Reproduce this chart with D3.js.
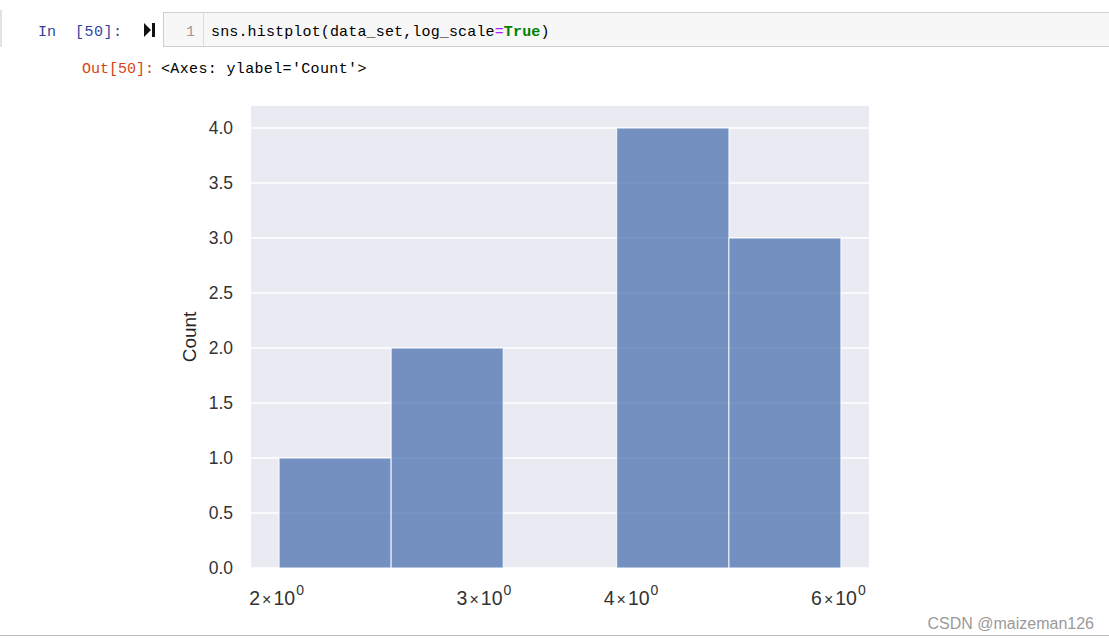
<!DOCTYPE html>
<html>
<head>
<meta charset="utf-8">
<script src="https://cdn.jsdelivr.net/npm/d3@7/dist/d3.min.js"></script>
<style>
  html, body { margin: 0; padding: 0; background: #ffffff; }
  svg { display: block; }
</style>
</head>
<body>
<svg id="chart" width="1109" height="639"></svg>
<script>
// ---- data ----
const binEdges = [2, 2.49, 3.10, 3.87, 4.82, 6];
const counts = [1, 2, 0, 4, 3];
const xTickValues = [2, 3, 4, 6];
const xTickMantissa = ["2", "3", "4", "6"];
const yTickValues = [0, 0.5, 1, 1.5, 2, 2.5, 3, 3.5, 4];
const yLabel = "Count";
const codeLine = "sns.histplot(data_set,log_scale=True)";
const outText = "<Axes: ylabel='Count'>";

const svg = d3.select("#chart");
const mono = "'Liberation Mono', 'DejaVu Sans Mono', monospace";
const sans = "'Liberation Sans', Arial, sans-serif";

// ---- notebook chrome ----
svg.append("rect").attr("x", 0).attr("y", 10).attr("width", 2).attr("height", 37).attr("fill", "#e3e3e3");
svg.append("text").attr("x", 38).attr("y", 36).attr("font-family", mono).attr("font-size", 15)
  .attr("fill", "#303F9F").text("In");
svg.append("text").attr("x", 75).attr("y", 36).attr("font-family", mono).attr("font-size", 15)
  .attr("letter-spacing", 0.5).attr("fill", "#303F9F").text("[50]:");
// run icon
svg.append("path").attr("d", "M144,23 L151,30 L144,37 Z").attr("fill", "#111");
svg.append("rect").attr("x", 152).attr("y", 23).attr("width", 3).attr("height", 14).attr("fill", "#111");
// input box
svg.append("rect").attr("x", 163.5).attr("y", 12.5).attr("width", 950).attr("height", 34)
  .attr("fill", "#f7f7f7").attr("stroke", "#cfcfcf");
svg.append("line").attr("x1", 203.5).attr("x2", 203.5).attr("y1", 13).attr("y2", 46).attr("stroke", "#dddddd");
svg.append("text").attr("x", 186).attr("y", 36).attr("font-family", mono).attr("font-size", 15)
  .attr("fill", "#999999").text("1");
const code = svg.append("text").attr("x", 211).attr("y", 36).attr("font-family", mono).attr("font-size", 15)
  .attr("letter-spacing", 0.15).attr("fill", "#000");
const eqIdx = codeLine.indexOf("=");
code.append("tspan").text(codeLine.slice(0, eqIdx));
code.append("tspan").attr("fill", "#AA22FF").text("=");
code.append("tspan").attr("fill", "#008000").attr("font-weight", "bold").text(codeLine.slice(eqIdx + 1, codeLine.length - 1));
code.append("tspan").text(codeLine.slice(-1));

svg.append("text").attr("x", 82).attr("y", 73).attr("font-family", mono).attr("font-size", 15)
  .attr("fill", "#D84315").text("Out[50]:");
svg.append("text").attr("x", 161).attr("y", 73).attr("font-family", mono).attr("font-size", 15)
  .attr("letter-spacing", 0.35).attr("fill", "#000").text(outText);

// ---- plot ----
const plotL = 251, plotR = 869, plotT = 106, plotB = 568;
const lmin = Math.log10(binEdges[0]), lmax = Math.log10(binEdges[binEdges.length - 1]);
const pad = 0.05 * (lmax - lmin);
const x = d3.scaleLog().domain([Math.pow(10, lmin - pad), Math.pow(10, lmax + pad)]).range([plotL, plotR]);
const y = d3.scaleLinear().domain([0, 4.2]).range([plotB, plotT]);

svg.append("rect").attr("x", plotL).attr("y", plotT).attr("width", plotR - plotL).attr("height", plotB - plotT)
  .attr("fill", "#EAEAF2");

// horizontal grid
svg.append("g").selectAll("line").data(yTickValues).join("line")
  .attr("x1", plotL).attr("x2", plotR)
  .attr("y1", d => y(d)).attr("y2", d => y(d))
  .attr("stroke", "#ffffff").attr("stroke-width", 1.4);

// bars
const bins = counts.map((c, i) => ({ x0: binEdges[i], x1: binEdges[i + 1], c }));
svg.append("g").selectAll("rect").data(bins.filter(b => b.c > 0)).join("rect")
  .attr("x", d => x(d.x0)).attr("width", d => x(d.x1) - x(d.x0))
  .attr("y", d => y(d.c)).attr("height", d => y(0) - y(d.c))
  .attr("fill", "#4C72B0").attr("fill-opacity", 0.75)
  .attr("stroke", "#ffffff").attr("stroke-opacity", 0.75).attr("stroke-width", 1.2);

// y axis tick labels
const yAxis = d3.axisLeft(y).tickValues(yTickValues).tickFormat(d3.format(".1f")).tickSize(0).tickPadding(18);
const gy = svg.append("g").attr("transform", `translate(${plotL},0)`).call(yAxis);
gy.select(".domain").remove();
gy.selectAll("text").attr("font-family", sans).attr("font-size", 17.5).attr("fill", "#333333");

// x axis tick labels (mathtext style)
const xAxis = d3.axisBottom(x).tickValues(xTickValues).tickSize(0).tickFormat("");
const gx = svg.append("g").attr("transform", `translate(0,${plotB})`).call(xAxis);
gx.select(".domain").remove();
gx.selectAll(".tick").each(function (d, i) {
  const t = d3.select(this).append("text")
    .attr("x", -3).attr("y", 37).attr("text-anchor", "middle")
    .attr("font-family", sans).attr("font-size", 19.5).attr("fill", "#333333");
  t.append("tspan").text(xTickMantissa[i]);
  t.append("tspan").attr("font-size", 16).attr("dx", 2).text("×");
  t.append("tspan").attr("dx", 2).text("10");
  t.append("tspan").attr("font-size", 14).attr("dx", 1).attr("dy", -10).text("0");
});

// y label
svg.append("text")
  .attr("transform", `translate(196,${(plotT + plotB) / 2}) rotate(-90)`)
  .attr("text-anchor", "middle").attr("font-family", sans).attr("font-size", 19)
  .attr("fill", "#262626").text(yLabel);

// ---- footer ----
svg.append("line").attr("x1", 0).attr("x2", 1109).attr("y1", 635.5).attr("y2", 635.5).attr("stroke", "#bdbdbd");
svg.append("text").attr("x", 1094).attr("y", 629).attr("text-anchor", "end")
  .attr("font-family", sans).attr("font-size", 16).attr("fill", "#9a9a9a").text("CSDN @maizeman126");
</script>
</body>
</html>
